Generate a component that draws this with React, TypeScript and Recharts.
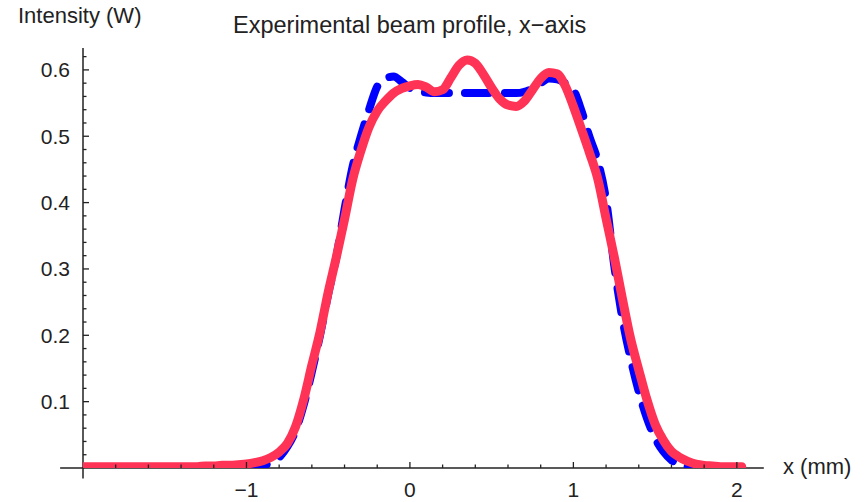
import React from "react";
import { LineChart, Line, XAxis, YAxis, ReferenceLine } from "recharts";

// x positions (mm)
const xValues = [
  -2.0, -1.95, -1.9, -1.85, -1.8, -1.75, -1.7, -1.65, -1.6, -1.55, -1.5, -1.45,
  -1.4, -1.35, -1.3, -1.25, -1.2, -1.15, -1.1, -1.05, -1.0, -0.95, -0.9, -0.85,
  -0.8, -0.75, -0.7, -0.65, -0.6, -0.55, -0.5, -0.45, -0.4, -0.35, -0.3, -0.25,
  -0.2, -0.15, -0.1, -0.05, 0.0, 0.05, 0.1, 0.15, 0.2, 0.25, 0.3, 0.35, 0.4,
  0.45, 0.5, 0.55, 0.6, 0.65, 0.7, 0.75, 0.8, 0.85, 0.9, 0.95, 1.0, 1.05, 1.1,
  1.15, 1.2, 1.25, 1.3, 1.35, 1.4, 1.45, 1.5, 1.55, 1.6, 1.65, 1.7, 1.75, 1.8,
  1.85, 1.9, 1.95, 2.0, 2.03,
];

// fitted flat-top profile (blue dashed)
const fitProfile = [
  0.001, 0.001, 0.001, 0.001, 0.001, 0.001, 0.001, 0.001, 0.001, 0.001, 0.001,
  0.001, 0.001, 0.001, 0.001, 0.001, 0.001, 0.001, 0.001, 0.001, 0.001, 0.002,
  0.004, 0.008, 0.016, 0.032, 0.056, 0.095, 0.145, 0.2, 0.262, 0.318, 0.39,
  0.455, 0.5, 0.54, 0.575, 0.587, 0.59, 0.582, 0.573, 0.568, 0.566, 0.565,
  0.565, 0.565, 0.565, 0.565, 0.565, 0.565, 0.565, 0.565, 0.565, 0.565, 0.567,
  0.572, 0.58, 0.587, 0.586, 0.58, 0.57, 0.538, 0.498, 0.462, 0.404, 0.305,
  0.225, 0.165, 0.115, 0.075, 0.045, 0.025, 0.012, 0.005, 0.002, 0.001, 0.001,
  0.001, 0.001, 0.001, 0.001, 0.001,
];

// measured profile (red)
const measuredProfile = [
  0.002, 0.002, 0.002, 0.002, 0.002, 0.002, 0.002, 0.002, 0.002, 0.002, 0.002,
  0.002, 0.002, 0.002, 0.002, 0.003, 0.003, 0.004, 0.004, 0.005, 0.006, 0.008,
  0.011, 0.016, 0.024, 0.037, 0.062, 0.103, 0.155, 0.205, 0.265, 0.318, 0.375,
  0.435, 0.478, 0.514, 0.538, 0.553, 0.565, 0.572, 0.576, 0.578, 0.574, 0.567,
  0.57, 0.588, 0.607, 0.615, 0.61, 0.593, 0.573, 0.556, 0.547, 0.545, 0.553,
  0.57, 0.587, 0.596, 0.594, 0.576, 0.545, 0.51, 0.474, 0.435, 0.376, 0.318,
  0.255, 0.195, 0.148, 0.103, 0.066, 0.042, 0.025, 0.016, 0.01, 0.006, 0.004,
  0.003, 0.002, 0.002, 0.002, 0.002,
];

const xMajorTicks = [-1, 0, 1, 2];
const xTickLabels = ["\u22121", "0", "1", "2"];
const xMinorTicks = [
  -1.8, -1.6, -1.4, -1.2, -0.8, -0.6, -0.4, -0.2, 0.2, 0.4, 0.6, 0.8, 1.2, 1.4,
  1.6, 1.8,
];
const yMajorTicks = [0.1, 0.2, 0.3, 0.4, 0.5, 0.6];
const yTickLabels = ["0.1", "0.2", "0.3", "0.4", "0.5", "0.6"];
const yMinorTicks = [
  0.02, 0.04, 0.06, 0.08, 0.12, 0.14, 0.16, 0.18, 0.22, 0.24, 0.26, 0.28, 0.32,
  0.34, 0.36, 0.38, 0.42, 0.44, 0.46, 0.48, 0.52, 0.54, 0.56, 0.58, 0.62,
];

const data = xValues.map((x, i) => ({
  x,
  fit: fitProfile[i],
  measured: measuredProfile[i],
}));

const FONT = "'Liberation Sans', Arial, sans-serif";
const INK = "#222";

const majorIndex = (list: number[], v: number) =>
  list.findIndex((m) => Math.abs(m - v) < 1e-6);

const XTick = (props: any) => {
  const { x, y, payload } = props;
  const i = majorIndex(xMajorTicks, payload.value);
  const len = i >= 0 ? 6 : 3.5;
  return (
    <g>
      <line x1={x} x2={x} y1={y} y2={y - len} stroke={INK} strokeWidth={1.3} />
      {i >= 0 && (
        <text
          x={x}
          y={y + 21}
          textAnchor="middle"
          dominantBaseline="central"
          fontFamily={FONT}
          fontSize={21}
          fill={INK}
        >
          {xTickLabels[i]}
        </text>
      )}
    </g>
  );
};

const YTick = (props: any) => {
  const { x, y, payload } = props;
  const i = majorIndex(yMajorTicks, payload.value);
  const len = i >= 0 ? 6 : 3.5;
  return (
    <g>
      <line x1={x} x2={x + len} y1={y} y2={y} stroke={INK} strokeWidth={1.3} />
      {i >= 0 && (
        <text
          x={x - 13}
          y={y}
          textAnchor="end"
          dominantBaseline="central"
          fontFamily={FONT}
          fontSize={21}
          fill={INK}
        >
          {yTickLabels[i]}
        </text>
      )}
    </g>
  );
};

const labelStyle: React.CSSProperties = {
  position: "absolute",
  fontFamily: FONT,
  fontSize: 22,
  color: INK,
  whiteSpace: "nowrap",
};

export default function App() {
  return (
    <div
      style={{
        position: "absolute",
        left: 0,
        top: 0,
        width: 868,
        height: 502,
        background: "#fff",
      }}
    >
      <LineChart
        width={868}
        height={502}
        data={data}
        margin={{ top: 48, right: 105, left: 23, bottom: 0 }}
      >
        <XAxis
          dataKey="x"
          type="number"
          domain={[-2, 2.16]}
          allowDataOverflow
          ticks={[...xMajorTicks, ...xMinorTicks]}
          interval={0}
          axisLine={false}
          tickLine={false}
          tickSize={0}
          tickMargin={0}
          height={34}
          tick={<XTick />}
        />
        <YAxis
          type="number"
          domain={[0, 0.633]}
          allowDataOverflow
          ticks={[...yMajorTicks, ...yMinorTicks]}
          interval={0}
          axisLine={false}
          tickLine={false}
          tickSize={0}
          tickMargin={0}
          width={60}
          tick={<YTick />}
        />
        <ReferenceLine
          segment={[
            { x: -2.14, y: 0 },
            { x: 2.165, y: 0 },
          ]}
          ifOverflow="visible"
          stroke={INK}
          strokeWidth={1.5}
        />
        <ReferenceLine
          segment={[
            { x: -2, y: -0.016 },
            { x: -2, y: 0.633 },
          ]}
          ifOverflow="visible"
          stroke={INK}
          strokeWidth={1.5}
        />
        <Line
          type="monotone"
          dataKey="fit"
          stroke="#0000ff"
          strokeWidth={8}
          strokeDasharray="24 16"
          strokeLinecap="round"
          strokeLinejoin="round"
          dot={false}
          activeDot={false}
          isAnimationActive={false}
        />
        <Line
          type="monotone"
          dataKey="measured"
          stroke="#ff3355"
          strokeWidth={9}
          strokeLinecap="round"
          strokeLinejoin="round"
          dot={false}
          activeDot={false}
          isAnimationActive={false}
        />
      </LineChart>
      <div style={{ ...labelStyle, left: 18, top: 3 }}>Intensity (W)</div>
      <div style={{ ...labelStyle, left: 233, top: 12, fontSize: 23.5 }}>
        Experimental beam profile, x{"\u2212"}axis
      </div>
      <div style={{ ...labelStyle, left: 783, top: 454 }}>x (mm)</div>
    </div>
  );
}
